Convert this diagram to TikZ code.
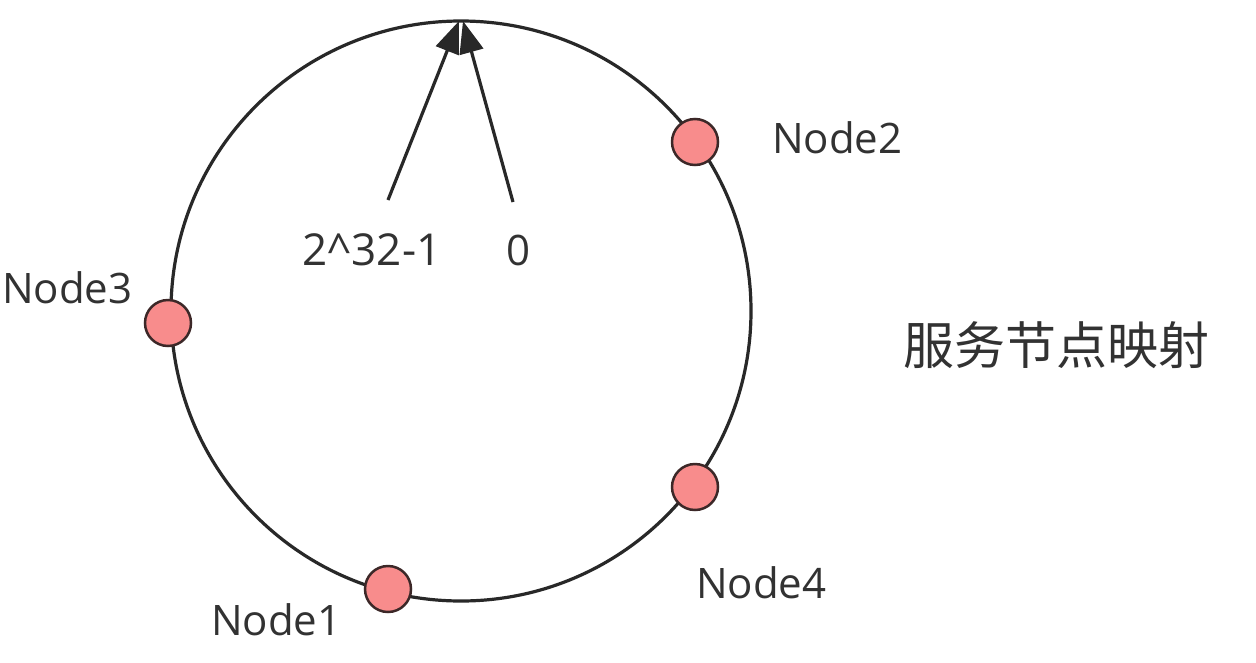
\documentclass[tikz,border=0pt]{standalone}
\usepackage{fontspec}
\setmainfont{Open Sans}
\newfontfamily\cjk{Noto Sans CJK SC}
\usetikzlibrary{arrows.meta}
\definecolor{nodefill}{RGB}{248,140,140}
\definecolor{nodeedge}{RGB}{60,40,40}
\definecolor{ink}{RGB}{40,40,40}
\definecolor{txt}{RGB}{50,50,50}
\begin{document}
\begin{tikzpicture}[x=1pt,y=-1pt,
  ringshape/.style={circle,draw=ink,line width=3.2pt,minimum size=580pt,inner sep=0pt,outer sep=0pt},
  hashnode/.style={circle,draw=nodeedge,fill=nodefill,line width=2.5pt,minimum size=46pt,inner sep=0pt},
  lbl/.style={text=txt,font=\fontsize{42}{50}\selectfont,inner sep=0pt},
  cjklbl/.style={text=txt,font=\cjk\fontsize{51}{60}\selectfont,inner sep=0pt},
  arr/.style={draw=ink,line width=3.2pt,-{Triangle[length=32pt,width=24pt]}}]
\useasboundingbox (0,0) rectangle (1256,662);
\fill[white] (0,0) rectangle (1256,662);
\node[ringshape] (ring) at (461,311) {};
\coordinate (tipL) at (459,21);
\coordinate (tipR) at (463,21);
\coordinate (startL) at (388,200);
\coordinate (startR) at (513,202);
\draw[arr] (startL) -- (tipL);
\draw[arr] (startR) -- (tipR);
\node[hashnode] (n2) at (695,142) {};
\node[hashnode] (n3) at (168,323) {};
\node[hashnode] (n1) at (388,589) {};
\node[hashnode] (n4) at (695,487) {};
\node[lbl,anchor=west] (l2) at (772,138) {Node2};
\node[lbl,anchor=west] (l3) at (2,288) {Node3};
\node[lbl,anchor=west] (l1) at (211,620) {Node1};
\node[lbl,anchor=west] (l4) at (696,583) {Node4};
\node[lbl,font=\fontsize{44}{52}\selectfont] (lmax) at (372,250) {2\^{}32-1};
\node[lbl] (lzero) at (519,250) {0};
\node[cjklbl,anchor=west] (title) at (903,345) {服务节点映射};
\end{tikzpicture}
\end{document}
